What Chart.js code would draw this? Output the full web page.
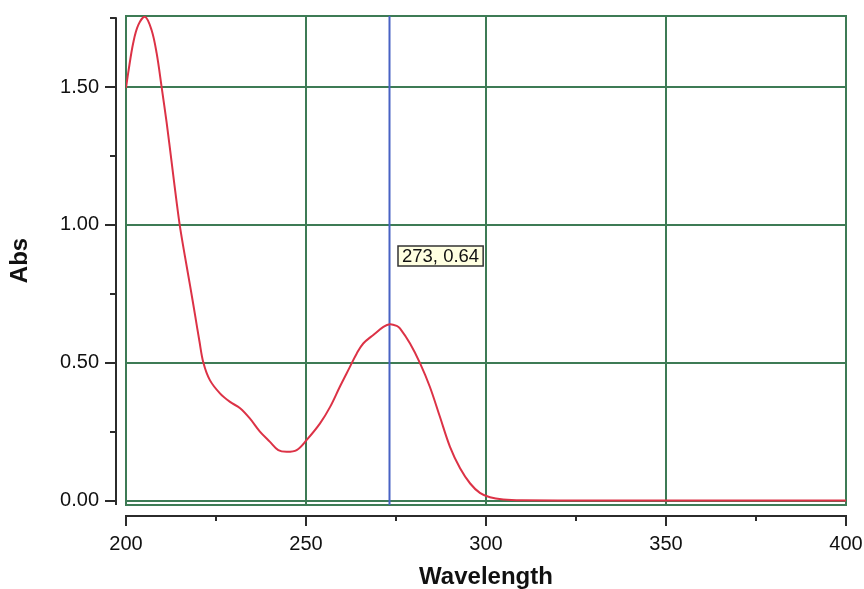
<!DOCTYPE html>
<html>
<head>
<meta charset="utf-8">
<script src="https://cdn.jsdelivr.net/npm/chart.js@4/dist/chart.umd.min.js"></script>
<style>
  html, body { margin: 0; padding: 0; background: #ffffff; }
  #c { display: block; }
</style>
</head>
<body>
<canvas id="c" width="864" height="589"></canvas>
<script>
// ---- data ----
const wavelengths = [200, 200.6, 202, 203.4, 205.3, 207.1, 208.5, 209.9, 211.3, 212.7, 214.1, 215, 216.4, 217.8, 219.2, 220.4, 221.5, 223.3, 226.1, 228.9, 231.7, 234.4, 237.2, 240, 242.3, 244.6, 247.4, 250.2, 253.9, 256.7, 259.4, 262.2, 264.1, 265.9, 268.7, 271.5, 273.3, 275.2, 276.1, 278.9, 281.7, 284.4, 287.2, 290, 292.8, 295.6, 298.3, 301.1, 304.8, 310, 330, 360, 400];
const absorbance = [1.497, 1.551, 1.660, 1.725, 1.755, 1.707, 1.624, 1.500, 1.370, 1.225, 1.079, 0.993, 0.884, 0.780, 0.672, 0.578, 0.500, 0.437, 0.389, 0.358, 0.335, 0.298, 0.250, 0.213, 0.183, 0.177, 0.183, 0.220, 0.280, 0.340, 0.413, 0.485, 0.534, 0.570, 0.601, 0.630, 0.640, 0.634, 0.625, 0.570, 0.498, 0.413, 0.304, 0.195, 0.117, 0.062, 0.028, 0.012, 0.004, 0.001, 0.0, 0.0, 0.0];
const xTicks = [200, 225, 250, 275, 300, 325, 350, 375, 400];
const xLabelTicks = [200, 250, 300, 350, 400];
const yTicks = [0, 0.25, 0.5, 0.75, 1.0, 1.25, 1.5, 1.75];
const yLabelTicks = [0, 0.5, 1.0, 1.5];
const cursorX = 273;
const cursorY = 0.64;
const xTitle = 'Wavelength';
const yTitle = 'Abs';

// ---- styles ----
const GREEN = '#3d7b55';
const RED = '#dc3246';
const BLUE = '#4862c4';
const AXIS = '#2b2b2b';
const FONT = '"Liberation Sans", Arial, sans-serif';

const points = wavelengths.map((w, i) => ({ x: w, y: absorbance[i] }));
const isIn = (arr, v) => arr.some(a => Math.abs(a - v) < 1e-6);
const noPad = s => { s.paddingLeft = 0; s.paddingRight = 0; s.paddingTop = 0; s.paddingBottom = 0; };

const decorPlugin = {
  id: 'decor',
  beforeDatasetsDraw(chart) {
    const { ctx, chartArea: a, scales: { x, y } } = chart;
    ctx.save();
    // frame
    ctx.strokeStyle = GREEN;
    ctx.lineWidth = 2;
    ctx.strokeRect(a.left, a.top, a.right - a.left, a.bottom - a.top);
    // cursor line
    const cx = Math.round(x.getPixelForValue(cursorX)) + 0.5;
    ctx.strokeStyle = BLUE;
    ctx.lineWidth = 2;
    ctx.beginPath();
    ctx.moveTo(cx, a.top);
    ctx.lineTo(cx, a.bottom);
    ctx.stroke();
    ctx.restore();
  },
  afterDraw(chart) {
    const { ctx, chartArea: a, scales: { x, y } } = chart;
    ctx.save();
    ctx.strokeStyle = AXIS;
    ctx.lineWidth = 2;
    // detached y axis
    const ax = a.left - 10;
    ctx.beginPath();
    ctx.moveTo(ax, y.getPixelForValue(yTicks[yTicks.length - 1]) - 1);
    ctx.lineTo(ax, a.bottom);
    ctx.stroke();
    yTicks.forEach(v => {
      const py = Math.round(y.getPixelForValue(v));
      const len = isIn(yLabelTicks, v) ? 11 : 6;
      ctx.beginPath();
      ctx.moveTo(ax, py);
      ctx.lineTo(ax - len, py);
      ctx.stroke();
    });
    // detached x axis
    const ay = a.bottom + 11;
    ctx.beginPath();
    ctx.moveTo(a.left - 1, ay);
    ctx.lineTo(a.right + 1, ay);
    ctx.stroke();
    xTicks.forEach(v => {
      const px = Math.round(x.getPixelForValue(v));
      const len = isIn(xLabelTicks, v) ? 10 : 5;
      ctx.beginPath();
      ctx.moveTo(px, ay);
      ctx.lineTo(px, ay + len);
      ctx.stroke();
    });
    // cursor readout box
    const txt = cursorX + ', ' + cursorY.toFixed(2);
    ctx.font = '18.5px ' + FONT;
    const tw = ctx.measureText(txt).width;
    const bx = Math.round(x.getPixelForValue(cursorX)) + 9;
    const by = Math.round(y.getPixelForValue(cursorY)) - 78;
    const bw = tw + 8, bh = 20;
    ctx.fillStyle = '#ffffe1';
    ctx.fillRect(bx, by, bw, bh);
    ctx.strokeStyle = '#333333';
    ctx.lineWidth = 1.5;
    ctx.strokeRect(bx, by, bw, bh);
    ctx.fillStyle = '#111111';
    ctx.textBaseline = 'middle';
    ctx.textAlign = 'left';
    ctx.fillText(txt, bx + 4, by + bh / 2 + 1);
    ctx.restore();
  }
};

new Chart(document.getElementById('c'), {
  type: 'line',
  data: {
    datasets: [{
      data: points,
      borderColor: RED,
      borderWidth: 2,
      pointRadius: 0,
      tension: 0.35,
      fill: false
    }]
  },
  options: {
    responsive: false,
    animation: false,
    layout: { padding: { left: 0, top: 16, right: 18, bottom: 0 } },
    plugins: { legend: { display: false }, tooltip: { enabled: false }, title: { display: false } },
    scales: {
      x: {
        type: 'linear',
        min: 200,
        max: 400,
        afterBuildTicks(s) { s.ticks = xTicks.map(v => ({ value: v })); },
        afterFit(s) { s.height = 84; noPad(s); },
        border: { display: false },
        grid: {
          drawTicks: false,
          lineWidth: 2,
          color: c => (c.tick && isIn([250, 300, 350], c.tick.value)) ? GREEN : 'rgba(0,0,0,0)'
        },
        ticks: {
          padding: 27,
          color: '#111111',
          font: { family: FONT, size: 20 },
          maxRotation: 0,
          autoSkip: false,
          callback: v => isIn(xLabelTicks, v) ? String(v) : ''
        },
        title: {
          display: true,
          text: xTitle,
          color: '#111111',
          font: { family: FONT, size: 24, weight: 'bold', lineHeight: 1 },
          padding: { top: 0, bottom: 0 }
        }
      },
      y: {
        type: 'linear',
        min: -0.016,
        max: 1.758,
        afterBuildTicks(s) { s.ticks = yTicks.map(v => ({ value: v })); },
        afterFit(s) { s.width = 126; noPad(s); },
        border: { display: false },
        grid: {
          drawTicks: false,
          lineWidth: 2,
          color: c => (c.tick && isIn(yLabelTicks, c.tick.value)) ? GREEN : 'rgba(0,0,0,0)'
        },
        ticks: {
          padding: 27,
          color: '#111111',
          font: { family: FONT, size: 20 },
          autoSkip: false,
          callback: v => isIn(yLabelTicks, v) ? v.toFixed(2) : ''
        },
        title: {
          display: true,
          text: yTitle,
          color: '#111111',
          font: { family: FONT, size: 24, weight: 'bold', lineHeight: 1 },
          padding: { top: 8, bottom: 0 }
        }
      }
    }
  },
  plugins: [decorPlugin]
});
</script>
</body>
</html>
